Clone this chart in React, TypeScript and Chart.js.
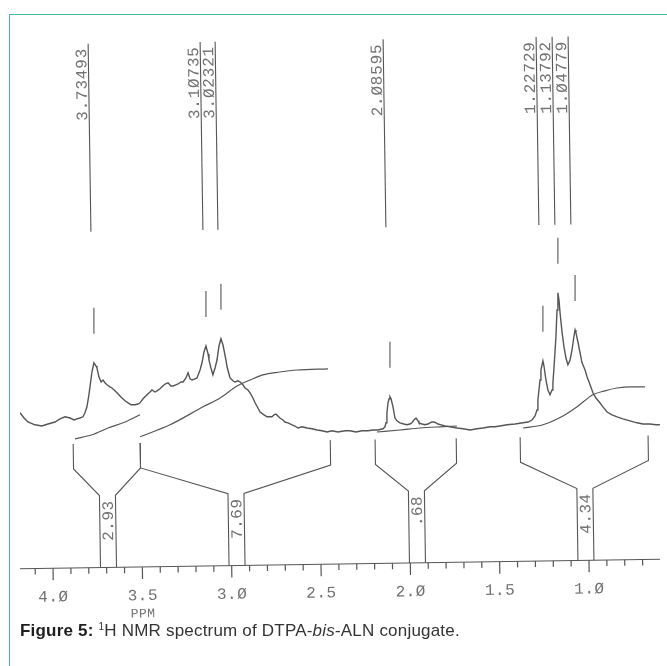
import React, { useEffect, useRef } from "react";
import { Chart, registerables } from "chart.js";

Chart.register(...registerables);

// 1H trace: chemical shift (ppm) and relative intensity
const TRACE_PPM = [
  4.185, 4.162, 4.14, 4.101, 4.062, 4.028, 3.989, 3.961, 3.933, 3.905,
  3.882, 3.866, 3.849, 3.832, 3.821, 3.81, 3.799, 3.793, 3.782, 3.771,
  3.759, 3.754, 3.743, 3.731, 3.72, 3.709, 3.698, 3.681, 3.67, 3.653,
  3.642, 3.625, 3.614, 3.597, 3.58, 3.563, 3.541, 3.524, 3.513, 3.496,
  3.474, 3.457, 3.446, 3.429, 3.418, 3.401, 3.39, 3.373, 3.356, 3.34,
  3.328, 3.312, 3.3, 3.284, 3.272, 3.256, 3.244, 3.233, 3.222, 3.205,
  3.194, 3.177, 3.166, 3.155, 3.144, 3.132, 3.127, 3.116, 3.105, 3.093,
  3.082, 3.071, 3.06, 3.049, 3.043, 3.032, 3.026, 3.015, 3.009, 2.993,
  2.981, 2.965, 2.953, 2.937, 2.925, 2.909, 2.897, 2.881, 2.869, 2.853,
  2.841, 2.819, 2.802, 2.785, 2.774, 2.763, 2.752, 2.741, 2.73, 2.713,
  2.702, 2.685, 2.662, 2.646, 2.629, 2.606, 2.578, 2.55, 2.522, 2.494,
  2.466, 2.438, 2.405, 2.366, 2.338, 2.304, 2.271, 2.237, 2.209, 2.181,
  2.153, 2.142, 2.136, 2.131, 2.125, 2.119, 2.114, 2.108, 2.097, 2.086,
  2.075, 2.058, 2.036, 2.019, 2.002, 1.991, 1.98, 1.968, 1.957, 1.952,
  1.935, 1.918, 1.901, 1.89, 1.879, 1.868, 1.856, 1.845, 1.828, 1.806,
  1.778, 1.739, 1.705, 1.666, 1.627, 1.593, 1.554, 1.526, 1.498, 1.459,
  1.414, 1.369, 1.341, 1.319, 1.302, 1.291, 1.286, 1.274, 1.269, 1.258,
  1.252, 1.241, 1.23, 1.218, 1.207, 1.202, 1.196, 1.185, 1.179, 1.174,
  1.168, 1.162, 1.151, 1.14, 1.129, 1.118, 1.106, 1.095, 1.084, 1.078,
  1.073, 1.062, 1.05, 1.039, 1.022, 1.011, 0.994, 0.978, 0.961, 0.939,
  0.922, 0.899, 0.871, 0.843, 0.81, 0.771, 0.731, 0.698, 0.659, 0.625,
  0.603,
];
const TRACE_INTENSITY = [
  37.8, 36.5, 35.5, 34.8, 34.5, 35.0, 35.5, 36.3, 36.8, 36.5,
  36.0, 36.3, 36.5, 36.8, 37.8, 39.3, 42.3, 44.3, 48.0, 50.3,
  49.5, 49.0, 46.8, 45.5, 46.0, 45.3, 44.8, 44.3, 44.0, 43.3,
  42.8, 42.0, 41.5, 40.8, 40.3, 39.8, 39.8, 40.0, 40.3, 41.3,
  42.3, 43.0, 43.5, 43.0, 43.3, 43.8, 44.3, 45.0, 45.3, 44.5,
  44.5, 44.8, 45.0, 45.5, 45.5, 46.5, 47.8, 46.3, 46.0, 46.3,
  46.5, 48.5, 50.3, 53.0, 54.5, 52.5, 51.0, 49.0, 47.3, 49.0,
  51.0, 54.5, 56.3, 54.8, 53.5, 51.0, 49.3, 47.5, 46.5, 45.8,
  45.5, 45.8, 45.5, 44.8, 44.0, 43.5, 42.8, 41.5, 40.3, 39.0,
  38.0, 37.3, 36.8, 36.8, 36.8, 37.3, 37.5, 37.0, 36.5, 36.0,
  35.5, 35.3, 34.8, 34.5, 34.0, 34.3, 34.0, 33.8, 33.5, 33.3,
  33.0, 33.3, 33.0, 33.3, 33.3, 33.0, 33.3, 33.3, 33.5, 33.5,
  33.8, 34.3, 35.3, 37.8, 40.3, 41.3, 41.8, 41.3, 39.3, 36.5,
  35.8, 35.3, 35.0, 34.8, 35.0, 35.3, 36.0, 36.5, 35.8, 35.3,
  35.0, 34.8, 35.0, 35.3, 35.5, 35.5, 35.3, 35.0, 34.8, 34.5,
  34.3, 34.0, 33.8, 33.5, 33.8, 34.0, 34.3, 34.3, 34.5, 34.8,
  35.0, 35.3, 35.5, 36.0, 37.0, 38.5, 41.0, 46.0, 48.5, 50.8,
  49.5, 46.0, 43.5, 42.3, 43.5, 45.3, 49.0, 56.8, 63.5, 67.8,
  66.0, 62.8, 58.0, 54.3, 51.5, 49.8, 51.0, 53.5, 57.0, 58.5,
  57.8, 55.5, 52.8, 50.3, 48.5, 46.8, 44.8, 42.8, 41.5, 40.3,
  39.3, 38.0, 37.3, 36.8, 36.3, 35.8, 35.3, 35.0, 35.0, 34.8,
  34.8,
];

// running integral curves, one per integrated region
const INTEGRAL_A_PPM = [3.877, 3.782, 3.692, 3.597, 3.513];
const INTEGRAL_A = [31.3, 32.3, 34.0, 35.5, 37.3];
const INTEGRAL_B_PPM = [3.513, 3.345, 3.16, 3.065, 2.97, 2.897, 2.825, 2.73, 2.634, 2.461];
const INTEGRAL_B = [31.8, 34.8, 39.3, 41.5, 44.5, 46.0, 47.3, 48.0, 48.5, 48.8];
const INTEGRAL_C_PPM = [2.187, 2.058, 1.946, 1.834, 1.739];
const INTEGRAL_C = [33.0, 33.5, 34.0, 34.3, 34.5];
const INTEGRAL_D_PPM = [1.369, 1.258, 1.146, 1.067, 0.978, 0.911, 0.843, 0.771, 0.687];
const INTEGRAL_D = [34.0, 34.8, 37.0, 39.3, 42.3, 43.3, 44.0, 44.3, 44.3];

// integrated regions and their printed areas
const REGION_START = [3.877, 3.502, 2.187, 1.375];
const REGION_END = [3.502, 2.438, 1.733, 0.659];
const REGION_AREA = [2.93, 7.69, 0.68, 4.34];

// peak list (printed shifts) and the peak-top ticks on the trace
const PICK_PPM = [3.73493, 3.10735, 3.02321, 2.08595, 1.22729, 1.13792, 1.04779];
const PEAK_MARK_PPM = [3.771, 3.144, 3.06, 2.114, 1.258, 1.174, 1.078];

// ruler
const AXIS_LABEL_PPM = [4.0, 3.5, 3.0, 2.5, 2.0, 1.5, 1.0];
const AXIS_MIN = 0.6026;
const AXIS_MAX = 4.1847;
const PICK_RULER_SHIFT = 0.0636; // the peak-list ruler is printed shifted against the axis
const INTENSITY_MAX = 136;
const PAPER_SKEW = -0.0148; // radians; the recorder paper runs slightly uphill to the right

const INK = "#555555";
const TEXT_INK = "#727272";
const MONO = '"Liberation Mono", "DejaVu Sans Mono", monospace';

const plotterDigits = (s: string) => s.replace(/0/g, "\u00D8");

const toPoints = (xs: number[], ys: number[]) => xs.map((x, i) => ({ x, y: ys[i] }));

const nmrDecorations = {
  id: "nmrDecorations",
  afterDatasetsDraw(chart: any) {
    const { ctx, chartArea } = chart;
    const xs = chart.scales.x;
    const xp = chart.scales.xp;
    const ys = chart.scales.y;
    const base = chartArea.bottom;
    const midX = (chartArea.left + chartArea.right) / 2;
    const line = (x1: number, y1: number, x2: number, y2: number) => {
      ctx.beginPath();
      ctx.moveTo(x1, y1);
      ctx.lineTo(x2, y2);
      ctx.stroke();
    };
    const skewed = (cx: number, cy: number, draw: () => void) => {
      ctx.save();
      ctx.translate(cx, cy);
      ctx.rotate(PAPER_SKEW);
      ctx.translate(-cx, -cy);
      draw();
      ctx.restore();
    };

    ctx.save();
    ctx.strokeStyle = INK;
    ctx.fillStyle = TEXT_INK;
    ctx.lineWidth = 1.2;

    skewed(midX, base, () => {
      // ppm ruler with 0.1 ppm ticks
      line(chartArea.left, base, chartArea.right, base);
      for (let i = Math.ceil(AXIS_MIN * 10); i <= Math.floor(AXIS_MAX * 10); i++) {
        const px = xs.getPixelForValue(i / 10);
        line(px, base, px, base + (i % 5 === 0 ? 12 : 6));
      }
      ctx.font = `16px ${MONO}`;
      (ctx as any).letterSpacing = "0.5px";
      ctx.textAlign = "center";
      ctx.textBaseline = "middle";
      AXIS_LABEL_PPM.forEach((v) => {
        ctx.fillText(plotterDigits(v.toFixed(1)), xs.getPixelForValue(v), base + 29);
      });
      ctx.font = `13px ${MONO}`;
      ctx.fillText("PPM", xs.getPixelForValue(3.5), base + 47);

      // integration brackets narrowing into a column holding the area
      ctx.font = `16px ${MONO}`;
      ctx.lineWidth = 1.1;
      REGION_START.forEach((start, i) => {
        const xl = xs.getPixelForValue(start);
        const xr = xs.getPixelForValue(REGION_END[i]);
        const xc = (xl + xr) / 2;
        const top = base - 124;
        const knee = base - 99;
        const neck = base - 72;
        ctx.beginPath();
        ctx.moveTo(xl, top);
        ctx.lineTo(xl, knee);
        ctx.lineTo(xc - 8, neck);
        ctx.lineTo(xc - 8, base);
        ctx.moveTo(xr, top);
        ctx.lineTo(xr, knee);
        ctx.lineTo(xc + 8, neck);
        ctx.lineTo(xc + 8, base);
        ctx.stroke();
        const area = REGION_AREA[i];
        const label = area < 1 ? area.toFixed(2).slice(1) : area.toFixed(2);
        ctx.save();
        ctx.translate(xc + 1, neck + 5);
        ctx.rotate(-Math.PI / 2);
        ctx.textAlign = "right";
        ctx.textBaseline = "middle";
        ctx.fillText(plotterDigits(label), 0, 0);
        ctx.restore();
      });
    });

    // peak list: a rule per peak with its shift written up the left side
    const pickTop = chartArea.top + 20;
    const pickBottom = chartArea.top + 208;
    skewed(midX, (pickTop + pickBottom) / 2, () => {
      ctx.font = `16px ${MONO}`;
      (ctx as any).letterSpacing = "0.8px";
      ctx.lineWidth = 1.1;
      PICK_PPM.forEach((v) => {
        const px = Math.round(xp.getPixelForValue(v)) + 0.5;
        line(px, pickTop, px, pickBottom);
        ctx.save();
        ctx.translate(px - 2, pickTop + 77);
        ctx.rotate(-Math.PI / 2);
        ctx.textAlign = "left";
        ctx.textBaseline = "alphabetic";
        ctx.fillText(plotterDigits(v.toFixed(5)), 0, 0);
        ctx.restore();
      });
    });

    // short ticks above the picked peak tops
    ctx.lineWidth = 1.1;
    PEAK_MARK_PPM.forEach((v) => {
      let apex = 0;
      TRACE_PPM.forEach((p, i) => {
        if (Math.abs(p - v) < 0.012) apex = Math.max(apex, TRACE_INTENSITY[i]);
      });
      const px = xs.getPixelForValue(v);
      const py = ys.getPixelForValue(apex);
      line(px, py - 55, px, py - 29);
    });

    ctx.restore();
  },
};

export default function App() {
  const canvasRef = useRef<HTMLCanvasElement | null>(null);

  useEffect(() => {
    const canvas = canvasRef.current;
    if (!canvas) return;
    const curve = (data: { x: number; y: number }[], width: number, smooth: boolean) => ({
      data,
      borderColor: INK,
      borderWidth: width,
      pointRadius: 0,
      fill: false,
      tension: smooth ? 0.4 : 0,
      cubicInterpolationMode: smooth ? ("monotone" as const) : ("default" as const),
    });
    const chart = new Chart(canvas, {
      type: "line",
      data: {
        datasets: [
          curve(toPoints(TRACE_PPM, TRACE_INTENSITY), 1.4, false),
          curve(toPoints(INTEGRAL_A_PPM, INTEGRAL_A), 1.2, true),
          curve(toPoints(INTEGRAL_B_PPM, INTEGRAL_B), 1.2, true),
          curve(toPoints(INTEGRAL_C_PPM, INTEGRAL_C), 1.2, true),
          curve(toPoints(INTEGRAL_D_PPM, INTEGRAL_D), 1.2, true),
        ],
      },
      options: {
        responsive: false,
        animation: false,
        devicePixelRatio: 1,
        layout: { padding: { left: 20, right: 7, top: 20, bottom: 102 } },
        scales: {
          x: { type: "linear", reverse: true, min: AXIS_MIN, max: AXIS_MAX, display: false },
          xp: {
            type: "linear",
            axis: "x",
            position: "bottom",
            reverse: true,
            min: AXIS_MIN - PICK_RULER_SHIFT,
            max: AXIS_MAX - PICK_RULER_SHIFT,
            display: false,
          },
          y: { type: "linear", min: 0, max: INTENSITY_MAX, display: false },
        },
        plugins: { legend: { display: false }, tooltip: { enabled: false } },
      },
      plugins: [nmrDecorations],
    });
    return () => chart.destroy();
  }, []);

  return (
    <div style={{ position: "absolute", left: 0, top: 0, width: 667, height: 666, overflow: "hidden", background: "#fff" }}>
      <div
        style={{
          position: "absolute",
          left: 9,
          top: 14,
          right: -2,
          bottom: -2,
          borderLeft: "1.5px solid #45b8a6",
          borderTop: "1.5px solid #45b8a6",
        }}
      />
      <canvas ref={canvasRef} width={667} height={666} style={{ position: "absolute", left: 0, top: 0, display: "block" }} />
      <div
        style={{
          position: "absolute",
          left: 20,
          top: 621,
          font: '17px "Liberation Sans", Arial, sans-serif',
          letterSpacing: "0.2px",
          color: "#333",
          whiteSpace: "nowrap",
        }}
      >
        <b style={{ color: "#1e1e1e" }}>Figure 5:</b>{" "}
        <span style={{ fontSize: 10, position: "relative", top: -6 }}>1</span>H NMR spectrum of DTPA-<i>bis</i>-ALN conjugate.
      </div>
    </div>
  );
}
